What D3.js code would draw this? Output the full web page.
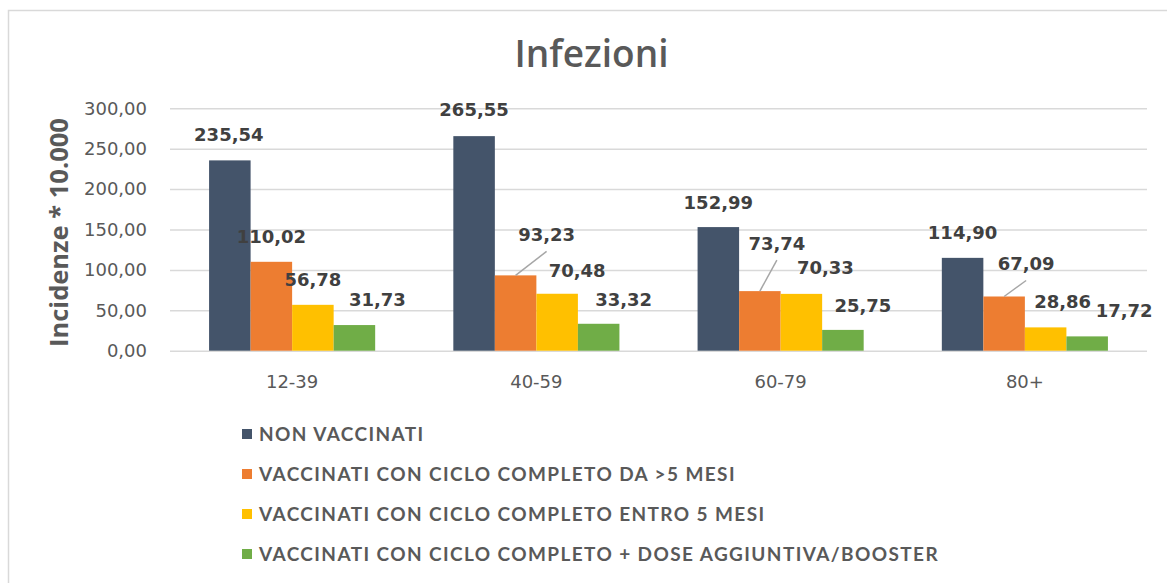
<!DOCTYPE html>
<html>
<head>
<meta charset="utf-8">
<script src="https://cdn.jsdelivr.net/npm/d3@7"></script>
<style>
  body { margin: 0; background: #fff; }
  svg { display: block; }
</style>
</head>
<body>
<script>
// Data
let categories = ['12-39', '40-59', '60-79', '80+'];
let seriesNames = [
    'NON VACCINATI',
    'VACCINATI CON CICLO COMPLETO DA >5 MESI',
    'VACCINATI CON CICLO COMPLETO ENTRO 5 MESI',
    'VACCINATI CON CICLO COMPLETO + DOSE AGGIUNTIVA/BOOSTER'
];
let nonVaccinati = [235.54, 265.55, 152.99, 114.90];
let completoOltre5 = [110.02, 93.23, 73.74, 67.09];
let completoEntro5 = [56.78, 70.48, 70.33, 28.86];
let booster = [31.73, 33.32, 25.75, 17.72];
let yTicks = [0, 50, 100, 150, 200, 250, 300];
let colors = ['#44546a', '#ed7d31', '#ffc000', '#70ad47'];

// label nudges (px from bar top centre), as placed by hand in the original
let labelNudge = [
    [[-1, -26], [0, -25], [0, -25], [23, -26]],
    [[0, -27], [31, -41], [20, -23], [25, -24]],
    [[0, -25], [17, -48], [24, -26], [20, -24]],
    [[0, -25], [22, -33], [17, -26], [37, -26]]
];
// which labels get a leader line: [category][series]
let leader = [[0, 0, 0, 0], [0, 1, 0, 0], [0, 1, 0, 0], [0, 1, 0, 0]];

let allSeries = [nonVaccinati, completoOltre5, completoEntro5, booster];

let it = d3.formatLocale({decimal: ',', thousands: '.', grouping: [3], currency: ['', '€']});
let fmt = it.format(',.2f');

// Setup SVG
let width = 1167, height = 583;
let plot = {left: 170, right: 1147, top: 108.3, bottom: 350.7};

let svg = d3.select('body').append('svg')
    .attr('width', width)
    .attr('height', height);

// chart frame
svg.append('rect')
    .attr('x', 8.5).attr('y', 10.5)
    .attr('width', 1200).attr('height', 620)
    .attr('fill', '#fff')
    .attr('stroke', '#d9d9d9')
    .attr('stroke-width', 1.5);

let x0 = d3.scaleBand()
    .domain(categories)
    .range([plot.left, plot.right])
    .paddingInner(0.32)
    .paddingOuter(0.16);

let x1 = d3.scaleBand()
    .domain(d3.range(seriesNames.length))
    .range([0, x0.bandwidth()]);

let y = d3.scaleLinear()
    .domain([0, 300])
    .range([plot.bottom, plot.top]);

// Title
svg.append('text')
    .attr('x', 591.5)
    .attr('y', 66.5)
    .attr('text-anchor', 'middle')
    .style('font-family', '"Open Sans", sans-serif')
    .style('font-weight', 600)
    .style('font-size', '37px')
    .style('fill', '#595959')
    .text('Infezioni');

// Y axis with gridlines
let yAxis = svg.append('g')
    .attr('transform', `translate(${plot.left},0)`)
    .call(d3.axisLeft(y)
        .tickValues(yTicks)
        .tickFormat(fmt)
        .tickSize(-(plot.right - plot.left))
        .tickPadding(23));
yAxis.select('.domain').remove();
yAxis.selectAll('.tick line')
    .style('stroke', '#d9d9d9')
    .style('stroke-width', 1.5);
yAxis.selectAll('.tick text')
    .style('font-family', '"DejaVu Sans", sans-serif')
    .style('font-size', '18px')
    .style('fill', '#595959');

// Y axis title
svg.append('text')
    .attr('transform', 'translate(59,232.5) rotate(-90)')
    .attr('text-anchor', 'middle')
    .attr('dy', '0.35em')
    .style('font-family', '"Open Sans", sans-serif')
    .style('font-weight', 700)
    .style('font-size', '25.5px')
    .style('fill', '#595959')
    .text('Incidenze * 10.000');

// Category labels
svg.append('g').selectAll('text')
    .data(categories)
    .join('text')
    .attr('x', d => x0(d) + x0.bandwidth() / 2)
    .attr('y', 381.5)
    .attr('dy', '0.35em')
    .attr('text-anchor', 'middle')
    .style('font-family', '"DejaVu Sans", sans-serif')
    .style('font-size', '18px')
    .style('fill', '#595959')
    .text(d => d);

// Bars
let cells = [];
categories.forEach((c, ci) => {
    allSeries.forEach((s, si) => {
        cells.push({cat: c, ci: ci, si: si, value: s[ci]});
    });
});

let groups = svg.append('g');
groups.selectAll('rect')
    .data(cells)
    .join('rect')
    .attr('x', d => x0(d.cat) + x1(d.si))
    .attr('y', d => y(d.value))
    .attr('width', x1.bandwidth())
    .attr('height', d => y(0) - y(d.value))
    .attr('fill', d => colors[d.si]);

// Leader lines
let cx = d => x0(d.cat) + x1(d.si) + x1.bandwidth() / 2;
svg.append('g').selectAll('line')
    .data(cells.filter(d => leader[d.ci][d.si]))
    .join('line')
    .attr('x1', d => cx(d))
    .attr('y1', d => y(d.value))
    .attr('x2', d => cx(d) + labelNudge[d.ci][d.si][0])
    .attr('y2', d => y(d.value) + labelNudge[d.ci][d.si][1] + 17)
    .style('stroke', '#a6a6a6')
    .style('stroke-width', 1.5);

// Value labels
svg.append('g').selectAll('text')
    .data(cells)
    .join('text')
    .attr('x', d => cx(d) + labelNudge[d.ci][d.si][0])
    .attr('y', d => y(d.value) + labelNudge[d.ci][d.si][1])
    .attr('dy', '0.36em')
    .attr('text-anchor', 'middle')
    .style('font-family', '"DejaVu Sans", sans-serif')
    .style('font-weight', 700)
    .style('font-size', '18px')
    .style('fill', '#404040')
    .text(d => fmt(d.value));

// Legend
let legend = svg.append('g').selectAll('g')
    .data(seriesNames)
    .join('g')
    .attr('transform', (d, i) => `translate(242,${434 + i * 40})`);

legend.append('rect')
    .attr('x', 0)
    .attr('y', -5)
    .attr('width', 10)
    .attr('height', 10)
    .attr('fill', (d, i) => colors[i]);

legend.append('text')
    .attr('x', 17)
    .attr('dy', '0.36em')
    .style('font-family', 'Lato, sans-serif')
    .style('font-weight', 700)
    .style('font-size', '19px')
    .style('letter-spacing', '1.4px')
    .style('fill', '#595959')
    .text(d => d);
</script>
</body>
</html>
